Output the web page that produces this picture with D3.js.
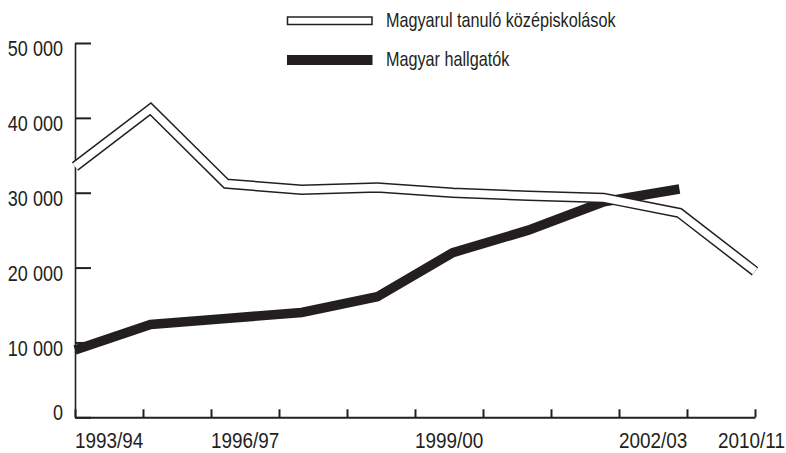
<!DOCTYPE html>
<html>
<head>
<meta charset="utf-8">
<script src="https://cdn.jsdelivr.net/npm/d3@7"></script>
<style>
  html, body { margin: 0; padding: 0; background: #fff; }
  svg { display: block; }
  text { font-family: "Liberation Sans", Arial, sans-serif; fill: #231f20; }
</style>
</head>
<body>
<svg id="chart" width="786" height="453"></svg>
<script>
// ---- data ----
const categories = ["1993/94","1994/95","1995/96","1996/97","1997/98","1998/99","1999/00","2000/01","2001/02","2010/11"];
const secondaryStudents = [33500, 41200, 31200, 30400, 30700, 30000, 29600, 29300, 27300, 19500];
const universityStudents = [9000, 12400, 13200, 14000, 16100, 22000, 25000, 28800, 30500, null];
const seriesNames = ["Magyarul tanuló középiskolások", "Magyar hallgatók"];
const yTicks = [0, 10000, 20000, 30000, 40000, 50000];
const xTickCount = 11;
const xTickLabels = ["1993/94", "1996/97", "1999/00", "2002/03", "2010/11"];
const xTickLabelAt = [0, 2, 5, 8, 10];

// ---- layout ----
const W = 786, H = 453;
const x0 = 75, x1 = 755, yBottom = 417.3, yTop = 43;
const ink = "#231f20";
const K = 0.82; // horizontal condensing of the font
const svg = d3.select("#chart");

function condense(sel, k = K) {
  sel.each(function() {
    const t = d3.select(this);
    const xv = +t.attr("x") || 0;
    t.attr("x", xv / k);
    const tr = t.attr("transform") || "";
    t.attr("transform", tr + ` scale(${k},1)`);
  });
}

const x = d3.scalePoint().domain(categories).range([x0, x1]);
const xt = d3.scaleLinear().domain([0, xTickCount - 1]).range([x0, x1]);
const y = d3.scaleLinear().domain([0, 50000]).range([yBottom, yTop]);

// y axis
const yAxis = d3.axisLeft(y)
  .tickValues(yTicks)
  .tickSizeInner(-16)
  .tickSizeOuter(0)
  .tickPadding(12)
  .tickFormat(d => d === 0 ? "0" : d3.format(",")(d).replace(/,/g, " "));
const gy = svg.append("g").attr("transform", `translate(${x0},0)`).call(yAxis);
gy.select(".domain").attr("stroke", ink).attr("stroke-width", 1.6);
gy.selectAll(".tick line").attr("stroke", ink).attr("stroke-width", 2);
gy.selectAll(".tick text")
  .attr("font-size", 22)
  .attr("fill", ink)
  .attr("dy", d => d === 0 ? "0.08em" : "0.58em")
  .style("font-family", '"Liberation Sans", Arial, sans-serif')
  .call(condense);

// x axis
const xAxis = d3.axisBottom(xt)
  .tickValues(d3.range(xTickCount))
  .tickSizeInner(-8)
  .tickSizeOuter(0)
  .tickFormat("");
const gx = svg.append("g").attr("transform", `translate(0,${yBottom})`).call(xAxis);
gx.select(".domain").attr("stroke", ink).attr("stroke-width", 2);
gx.selectAll(".tick line").attr("stroke", ink).attr("stroke-width", 2);

// x labels
const KX = 0.86;
const xl = svg.append("g").selectAll("text")
  .data(xTickLabels)
  .join("text")
  .attr("y", 448)
  .attr("font-size", 22)
  .attr("text-anchor", "start")
  .text(d => d);
xl.each(function(d, i) {
  const w = this.getComputedTextLength() * KX;
  const px = Math.min(xt(xTickLabelAt[i]), W - w - 1);
  d3.select(this).attr("x", px);
});
xl.call(condense, KX);

// lines
const line = d3.line()
  .defined(d => d.v != null)
  .x(d => x(d.c))
  .y(d => y(d.v));

const secData = categories.map((c, i) => ({c, v: secondaryStudents[i]}));
const uniData = categories.map((c, i) => ({c, v: universityStudents[i]}));

svg.append("path")
  .attr("d", line(uniData))
  .attr("fill", "none")
  .attr("stroke", ink)
  .attr("stroke-width", 9.5)
  .attr("stroke-linejoin", "miter")
  .attr("stroke-linecap", "butt");

svg.append("path")
  .attr("d", line(secData))
  .attr("fill", "none")
  .attr("stroke", ink)
  .attr("stroke-width", 10.5)
  .attr("stroke-linejoin", "miter")
  .attr("stroke-linecap", "butt");
svg.append("path")
  .attr("d", line(secData))
  .attr("fill", "none")
  .attr("stroke", "#fff")
  .attr("stroke-width", 7.5)
  .attr("stroke-linejoin", "miter")
  .attr("stroke-linecap", "butt");

// legend
const lg = svg.append("g");
lg.append("rect").attr("x", 287.5).attr("y", 17).attr("width", 84.5).attr("height", 7.5)
  .attr("fill", "#fff").attr("stroke", ink).attr("stroke-width", 1.5);
lg.append("rect").attr("x", 287).attr("y", 55).attr("width", 85.5).attr("height", 10)
  .attr("fill", ink);
lg.selectAll("text.lbl")
  .data(seriesNames)
  .join("text")
  .attr("class", "lbl")
  .attr("x", 386)
  .attr("y", (d, i) => i === 0 ? 27 : 66)
  .attr("font-size", 20.5)
  .text(d => d)
  .call(condense, 0.79);
</script>
</body>
</html>
